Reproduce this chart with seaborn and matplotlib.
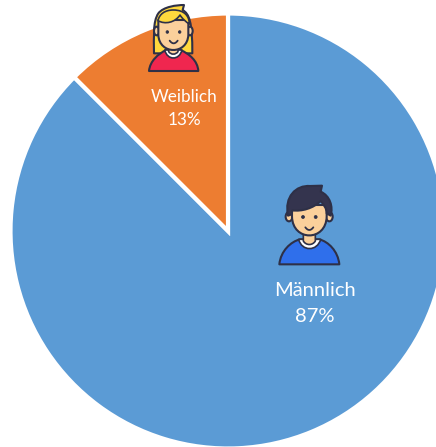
import matplotlib
matplotlib.use('Agg')
import matplotlib.pyplot as plt
import seaborn as sns
from matplotlib.path import Path
from matplotlib.patches import PathPatch, Ellipse

labels = ['Männlich', 'Weiblich']
values = [87.5, 12.5]
percent_labels = ['87%', '13%']
colors = ['#5B9BD5', '#ED7D31']

W, H = 436, 447
OUTLINE = '#2E3047'
SKIN = '#FBD09B'

sns.set_theme(style='white')
plt.rcParams['font.family'] = ['Lato', 'DejaVu Sans']

fig = plt.figure(figsize=(W / 100, H / 100), dpi=100)
ax = fig.add_axes([0, 0, 1, 1])

ax.pie(values, colors=colors, startangle=90, counterclock=False,
       center=(228, H - 231), radius=217.5, frame=True,
       wedgeprops={'edgecolor': 'white', 'linewidth': 3})
ax.set_aspect('equal')
ax.set_xlim(0, W)
ax.set_ylim(0, H)
ax.axis('off')


# icons are traced in zoom-crop coordinates (3x), ox/oy is the crop corner
def shape(ox, oy, cmds, fc, z=5, lw=1.5):
    verts, codes = [], []
    for c in cmds:
        if c[0] == 'M':
            pts, cc = [c[1:]], [Path.MOVETO]
        elif c[0] == 'L':
            pts, cc = [c[1:]], [Path.LINETO]
        else:
            pts = [c[1:3], c[3:5], c[5:7]]
            cc = [Path.CURVE4] * 3
        for p in pts:
            verts.append((ox + p[0] / 3, H - (oy + p[1] / 3)))
        codes += cc
    verts.append(verts[0])
    codes.append(Path.CLOSEPOLY)
    ax.add_patch(PathPatch(Path(verts, codes), fc=fc, ec=OUTLINE, lw=lw, zorder=z, joinstyle='round'))


def blob(ox, oy, x, y, w, h, fc, z=5, lw=1.5):
    ax.add_patch(Ellipse((ox + x / 3, H - (oy + y / 3)), w / 3, h / 3, fc=fc, ec=OUTLINE, lw=lw, zorder=z))


def smile(ox, oy, x, y):
    xs = [ox + (x - 12 + i * 3) / 3 for i in range(9)]
    ys = [H - (oy + (y + 8 * (1 - ((i - 4) / 4) ** 2)) / 3) for i in range(9)]
    ax.plot(xs, ys, color=OUTLINE, lw=1.3, zorder=9, solid_capstyle='round')


# woman
ox, oy = 130, 0
shape(ox, oy, [('M', 72, 160), ('C', 72, 110, 68, 65, 85, 40), ('C', 100, 20, 140, 15, 162, 15), ('L', 158, 30),
               ('C', 178, 42, 187, 65, 187, 160)], '#FFD83D', z=5)
shape(ox, oy, [('M', 57, 213), ('C', 60, 182, 85, 162, 108, 150), ('L', 152, 150),
               ('C', 178, 162, 203, 182, 205, 213)], '#F0264F', z=6)
shape(ox, oy, [('M', 104, 150), ('C', 112, 182, 148, 182, 156, 150)], 'white', z=7, lw=1.2)
shape(ox, oy, [('M', 116, 130), ('L', 144, 130), ('L', 144, 155), ('C', 136, 165, 124, 165, 116, 155)], SKIN, z=7, lw=1.2)
blob(ox, oy, 80, 93, 16, 26, SKIN, z=6)
blob(ox, oy, 180, 93, 16, 26, SKIN, z=6)
shape(ox, oy, [('M', 85, 60), ('L', 85, 105), ('C', 88, 165, 172, 165, 175, 105), ('L', 175, 60)], SKIN, z=7)
shape(ox, oy, [('M', 84, 62), ('C', 105, 74, 135, 68, 150, 45), ('C', 156, 55, 168, 66, 178, 72),
               ('C', 178, 50, 165, 30, 130, 30), ('C', 105, 30, 88, 42, 84, 62)], '#FFD83D', z=8, lw=1.2)
blob(ox, oy, 112, 96, 8, 8, OUTLINE, z=9, lw=0.5)
blob(ox, oy, 149, 96, 8, 8, OUTLINE, z=9, lw=0.5)
smile(ox, oy, 131, 122)

# man
ox, oy = 260, 175
shape(ox, oy, [('M', 58, 268), ('C', 62, 228, 92, 200, 120, 193), ('L', 178, 193),
               ('C', 205, 200, 234, 228, 238, 268)], '#2F6FEB', z=5)
shape(ox, oy, [('M', 116, 193), ('C', 125, 230, 172, 230, 182, 193)], 'white', z=6, lw=1.2)
shape(ox, oy, [('M', 130, 175), ('L', 166, 175), ('L', 166, 198), ('C', 158, 212, 138, 212, 130, 198)], SKIN, z=6, lw=1.2)
blob(ox, oy, 87, 125, 20, 28, SKIN, z=6)
blob(ox, oy, 208, 125, 20, 28, SKIN, z=6)
shape(ox, oy, [('M', 96, 90), ('L', 96, 125), ('C', 98, 200, 198, 200, 200, 125), ('L', 200, 90)], SKIN, z=7)
shape(ox, oy, [('M', 84, 122), ('C', 72, 65, 108, 30, 150, 33), ('L', 186, 32), ('L', 182, 50),
               ('C', 210, 62, 220, 95, 212, 122), ('L', 200, 115), ('C', 200, 100, 192, 90, 182, 78),
               ('C', 160, 100, 125, 110, 97, 106), ('L', 95, 118)], '#34344E', z=8)
blob(ox, oy, 129, 126, 9, 9, OUTLINE, z=9, lw=0.5)
blob(ox, oy, 167, 126, 9, 9, OUTLINE, z=9, lw=0.5)
smile(ox, oy, 148, 157)

# text
ax.text(314.5, H - 290, labels[0], color='white', fontsize=14.5, ha='center', va='center', zorder=10)
ax.text(314.5, H - 317, percent_labels[0], color='white', fontsize=14.5, ha='center', va='center', zorder=10)
ax.text(184, H - 97, labels[1], color='white', fontsize=12.3, ha='center', va='center', zorder=10)
ax.text(184, H - 120, percent_labels[1], color='white', fontsize=12.3, ha='center', va='center', zorder=10)

fig.savefig('out.png', dpi=100, facecolor='white')
